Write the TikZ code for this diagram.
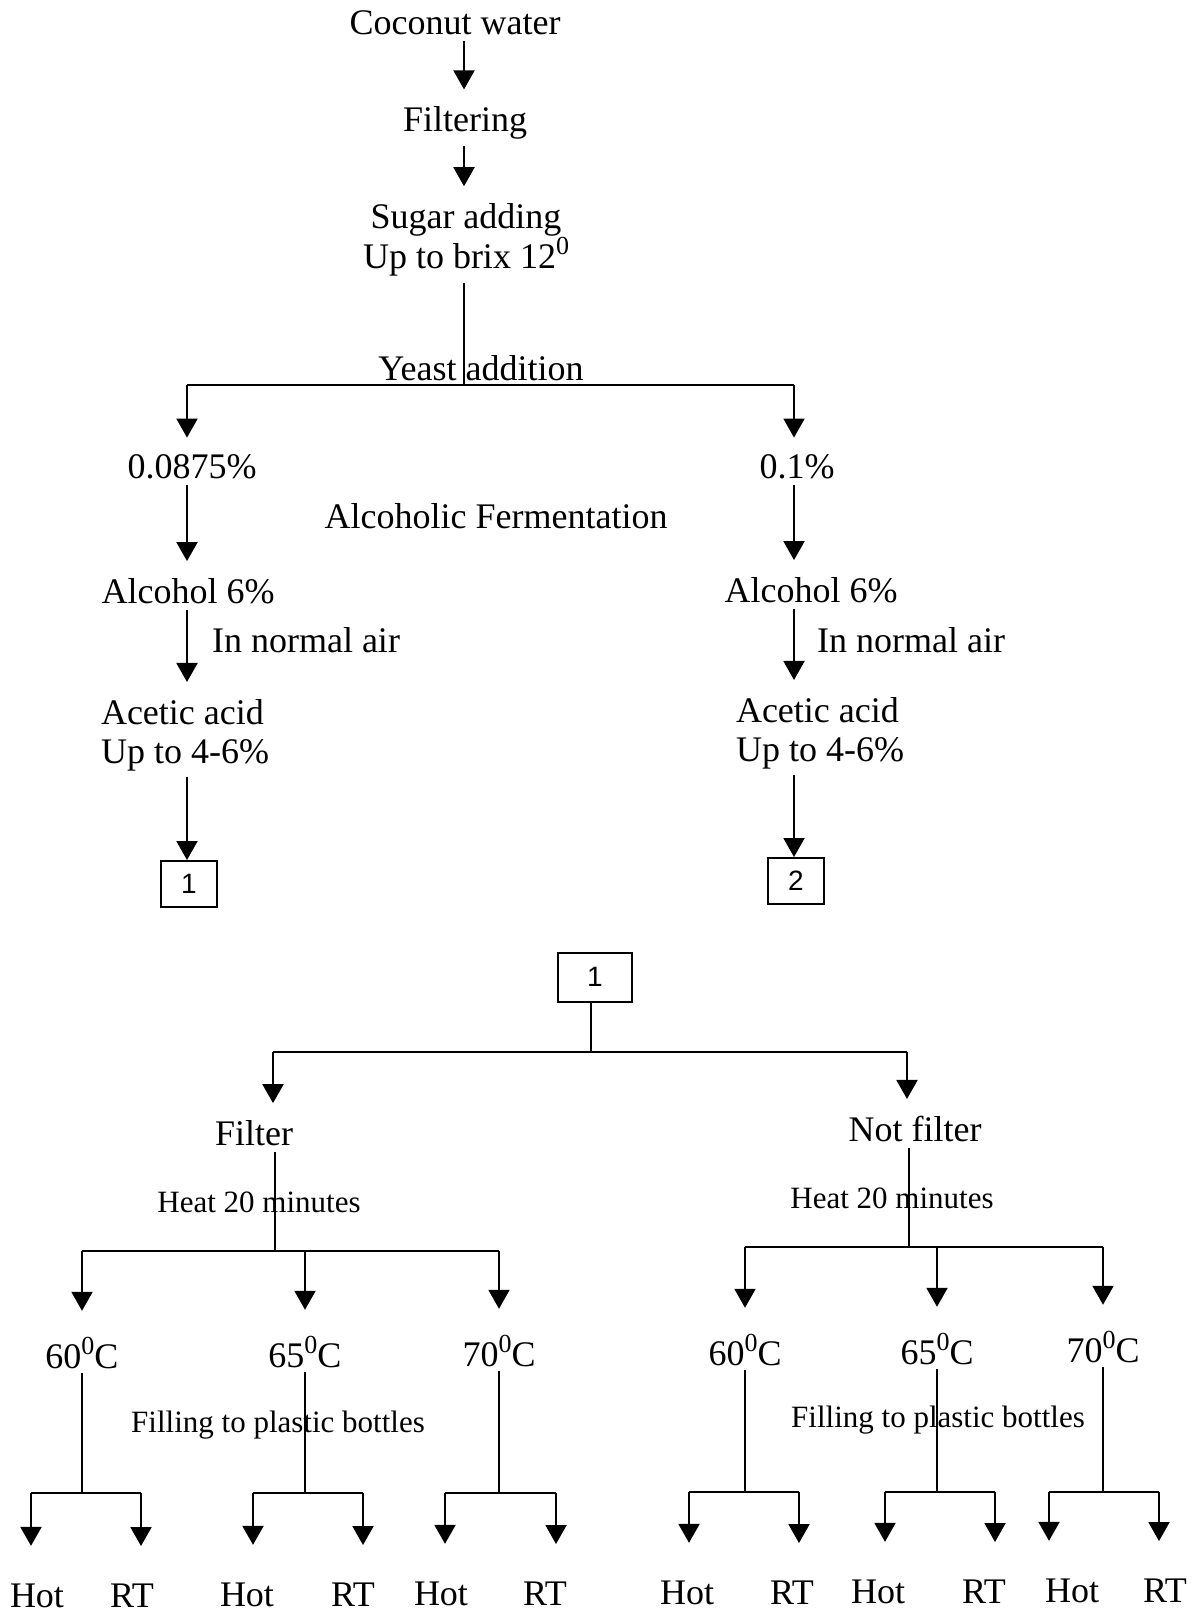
\documentclass[tikz,border=0pt]{standalone}
\usepackage{fontspec}
\setmainfont{Liberation Serif}
\newfontfamily\boxfont{Liberation Sans}
\usetikzlibrary{arrows.meta,calc}

% raised degree-like zero
\newcommand{\supz}{\raisebox{0.4em}{\fontsize{26}{26}\selectfont 0}}

\begin{document}
\begin{tikzpicture}[x=1pt,y=-1pt,
  txt/.style={inner sep=0pt, font=\fontsize{36}{39}\selectfont},
  small/.style={inner sep=0pt, font=\fontsize{31}{36}\selectfont},
  numbox/.style={draw, line width=2pt, minimum width=56pt, minimum height=46pt,
    inner sep=0pt, font=\boxfont\fontsize{28}{30}\selectfont},
  ln/.style={line width=2pt, shorten <=6pt},
  arr/.style={-{Triangle[width=21pt,length=19pt]}, line width=2pt,
    shorten <=6pt, shorten >=17pt}]

  \useasboundingbox (0,0) rectangle (1197,1616);

  % Main line
  \coordinate (sp) at (464,0);
  \node[txt] (cw) at (455,23) {Coconut water};
  \node[txt] (filt) at (465,123) {Filtering};
  \node[txt, align=center] (sug) at (466,240) {Sugar adding\\Up to brix 12\supz};
  \draw[arr] (cw.south -| sp) -- (filt.north -| sp);
  \draw[arr] (filt.south -| sp) -- (sug.north -| sp);

  % Yeast addition
  \coordinate (yj) at (464,385);
  \coordinate (yl) at (187,385);
  \coordinate (yr) at (794,385);
  \node[txt] (yeast) at (481,368) {Yeast addition};
  \draw[ln] (sug.south -| sp) -- (yj);
  \draw[line width=2pt] (yl) -- (yr);

  % Two yeast doses
  \node[txt] (pl) at (192,467) {0.0875\%};
  \node[txt] (pr) at (797,467) {0.1\%};
  \node[txt] (alcf) at (496,516) {Alcoholic Fermentation};
  \node[txt] (all) at (188,591) {Alcohol 6\%};
  \node[txt] (alr) at (811,590) {Alcohol 6\%};
  \node[txt] (airl) at (306,640) {In normal air};
  \node[txt] (airr) at (911,640) {In normal air};
  \node[txt, align=left] (acl) at (185,735) {Acetic acid\\Up to 4-6\%};
  \node[txt, align=left] (acr) at (820,733) {Acetic acid\\Up to 4-6\%};
  \node[numbox] (b1) at (189,884) {1};
  \node[numbox] (b2) at (796,881) {2};

  \draw[arr, shorten <=0pt] (yl) -- (pl.north -| yl);
  \draw[arr, shorten <=0pt] (yr) -- (pr.north -| yr);
  \draw[arr] (pl.south -| yl) -- (all.north -| yl);
  \draw[arr] (pr.south -| yr) -- (alr.north -| yr);
  \draw[arr] (all.south -| yl) -- (acl.north -| yl);
  \draw[arr] (alr.south -| yr) -- (acr.north -| yr);
  \draw[arr, shorten >=0pt] (acl.south -| yl) -- (b1.north -| yl);
  \draw[arr, shorten >=0pt] (acr.south -| yr) -- (b2.north -| yr);

  % Treatment of 1
  \node[numbox, minimum width=74pt, minimum height=49pt] (b1a) at (595,977) {1};
  \coordinate (fj) at (591,1052);
  \coordinate (fl) at (273,1052);
  \coordinate (fr) at (907,1052);
  \draw[line width=2pt] (b1a.south -| fj) -- (fj);
  \draw[line width=2pt] (fl) -- (fr);
  \node[txt] (filter) at (254,1133) {Filter};
  \node[txt] (nfilter) at (915,1129) {Not filter};
  \draw[arr, shorten <=0pt] (fl) -- (filter.north -| fl);
  \draw[arr, shorten <=0pt] (fr) -- (nfilter.north -| fr);

  % Heating
  \node[small] (heatl) at (259,1202) {Heat 20 minutes};
  \node[small] (heatr) at (892,1198) {Heat 20 minutes};
  \node[small] (filll) at (278,1425) {Filling to plastic bottles};
  \node[small] (fillr) at (938,1420) {Filling to plastic bottles};
  \coordinate (hjl) at (275,1251);
  \coordinate (hjr) at (909,1247);
  \draw[ln] (filter.south -| hjl) -- (hjl);
  \draw[ln] (nfilter.south -| hjr) -- (hjr);

  % Temperatures, storage
  \foreach \n/\x/\y/\jy/\ly/\t/\ax/\bx/\hx/\rx in {
      a/82/1353/1493/1596/60/31/141/37/132,
      b/305/1352/1493/1595/65/253/363/247/353,
      c/499/1351/1493/1594/70/445/556/441/545,
      d/745/1350/1492/1593/60/689/799/687/792,
      e/937/1349/1492/1592/65/885/995/878/984,
      f/1103/1347/1492/1591/70/1049/1159/1072/1165} {
    \node[txt] (t\n) at (\x,\y) {\t\supz C};
    \node[txt] (h\n) at (\hx,\ly) {Hot};
    \node[txt] (r\n) at (\rx,\ly) {RT};
    \coordinate (j\n) at (\x,\jy);
    \coordinate (jh\n) at (\ax,\jy);
    \coordinate (jr\n) at (\bx,\jy);
    \draw[ln, shorten <=4pt] (t\n.south) -- (j\n);
    \draw[line width=2pt] (jh\n) -- (jr\n);
    \draw[arr, shorten <=0pt, shorten >=38pt] (jh\n) -- (h\n.north -| jh\n);
    \draw[arr, shorten <=0pt, shorten >=38pt] (jr\n) -- (r\n.north -| jr\n);
  }
  \draw[line width=2pt] (ta |- hjl) -- (tc |- hjl);
  \draw[line width=2pt] (td |- hjr) -- (tf |- hjr);
  \foreach \n in {a,b,c} \draw[arr, shorten <=0pt, shorten >=26pt] (t\n |- hjl) -- (t\n.north);
  \foreach \n in {d,e,f} \draw[arr, shorten <=0pt, shorten >=26pt] (t\n |- hjr) -- (t\n.north);

\end{tikzpicture}
\end{document}
